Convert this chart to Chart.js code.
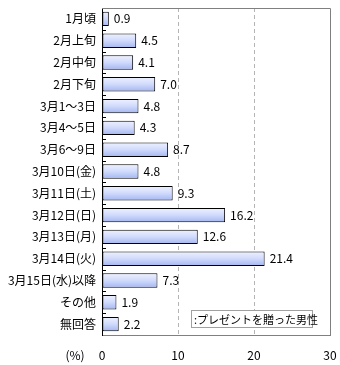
<!DOCTYPE html>
<html><head><meta charset="utf-8">
<script src="https://cdn.jsdelivr.net/npm/chart.js@4/dist/chart.umd.min.js"></script>
<style>html,body{margin:0;padding:0;background:#fff}#wrap{width:340px;height:365px}</style>
</head><body><div id="wrap"><canvas id="c" width="340" height="365"></canvas></div>
<script>
const categories = ["1月頃","2月上旬","2月中旬","2月下旬","3月1～3日","3月4～5日","3月6～9日","3月10日(金)","3月11日(土)","3月12日(日)","3月13日(月)","3月14日(火)","3月15日(水)以降","その他","無回答"];
const values = [0.9,4.5,4.1,7.0,4.8,4.3,8.7,4.8,9.3,16.2,12.6,21.4,7.3,1.9,2.2];
const xTicks = [0,10,20,30];
const seriesName = ":プレゼントを贈った男性";
const unitLabel = "(%)";
const FONT = "'Noto Sans CJK JP', 'DejaVu Sans', sans-serif";

const deco = {
  id: 'deco',
  beforeDatasetsDraw(chart) {
    const meta = chart.getDatasetMeta(0);
    const ctx = chart.ctx;
    meta.data.forEach(el => {
      const h = el.height;
      const g = ctx.createLinearGradient(0, el.y - h/2, 0, el.y + h/2);
      g.addColorStop(0, '#eef2ff');
      g.addColorStop(0.5, '#d0dafc');
      g.addColorStop(1, '#a4b6f2');
      el.options = Object.assign({}, el.options, {backgroundColor: g});
    });
  },
  afterDatasetsDraw(chart) {
    const ctx = chart.ctx, a = chart.chartArea;
    const ys = chart.scales.y;
    ctx.save();
    ctx.strokeStyle = '#808080'; ctx.lineWidth = 1;
    ctx.beginPath();
    ctx.moveTo(a.left, a.top + 0.5); ctx.lineTo(a.right + 0.5, a.top + 0.5);
    ctx.lineTo(a.right + 0.5, a.bottom);
    ctx.stroke();
    ctx.strokeStyle = '#000';
    ctx.beginPath();
    for (let i = 1; i < categories.length; i++) {
      const y = Math.round((ys.getPixelForValue(i - 1) + ys.getPixelForValue(i)) / 2) + 0.5;
      ctx.moveTo(a.left, y); ctx.lineTo(a.left + 4, y);
    }
    ctx.stroke();
    ctx.fillStyle = '#000';
    ctx.font = '12px ' + FONT;
    ctx.textBaseline = 'middle';
    ctx.textAlign = 'left';
    const meta = chart.getDatasetMeta(0);
    meta.data.forEach((el, i) => {
      ctx.fillText(values[i].toFixed(1), el.x + 5, el.y);
    });
    const lx = 191, ly = 310, lw = 121, lh = 17;
    ctx.fillStyle = '#fff';
    ctx.fillRect(lx, ly, lw, lh);
    ctx.strokeStyle = '#a0a0a0';
    ctx.strokeRect(lx + 0.5, ly + 0.5, lw, lh);
    ctx.fillStyle = '#000';
    ctx.font = '11px ' + FONT;
    ctx.fillText(seriesName, lx + 3, ly + lh/2 + 1);
    ctx.textAlign = 'center';
    ctx.font = '12px ' + FONT;
    ctx.fillText(unitLabel, 75, 355);
    ctx.restore();
  }
};

new Chart(document.getElementById('c'), {
  type: 'bar',
  data: {
    labels: categories,
    datasets: [{
      label: seriesName,
      data: values,
      borderColor: '#000',
      borderWidth: 1,
      borderSkipped: false,
      backgroundColor: '#c8d4f8',
      barPercentage: 0.66,
      categoryPercentage: 1
    }]
  },
  options: {
    indexAxis: 'y',
    responsive: false,
    animation: false,
    layout: { padding: { top: 8, right: 10, left: 0, bottom: 0 } },
    plugins: { legend: { display: false }, tooltip: { enabled: false } },
    scales: {
      x: {
        min: 0, max: 30,
        afterBuildTicks(s) { s.ticks = xTicks.map(v => ({ value: v })); },
        afterFit(s) { s.height = 30; s.paddingLeft = 0; s.paddingRight = 0; },
        ticks: { color: '#000', padding: 13, maxRotation: 0, font: { family: FONT, size: 12 } },
        grid: {
          drawTicks: false,
          color: c => (c.tick && (c.tick.value === 10 || c.tick.value === 20)) ? '#b4b4b4' : 'rgba(0,0,0,0)'
        },
        border: { display: true, color: '#808080', dash: [4, 3] }
      },
      y: {
        afterFit(s) { s.width = 102; s.paddingTop = 0; s.paddingBottom = 0; },
        ticks: { color: '#000', padding: 6, autoSkip: false, font: { family: FONT, size: 12 } },
        grid: { display: false, drawTicks: false },
        border: { display: true, color: '#000' }
      }
    }
  },
  plugins: [deco]
});
</script>
</body></html>
